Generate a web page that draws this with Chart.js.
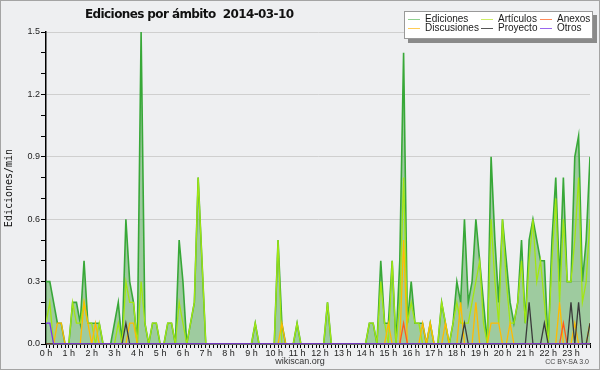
<!DOCTYPE html>
<html>
<head>
<meta charset="utf-8">
<script src="https://cdn.jsdelivr.net/npm/chart.js@4.4.1/dist/chart.umd.min.js"></script>
<style>
  body { margin: 0; background: #eeeff1; }
  #wrap { position: relative; width: 600px; height: 370px; overflow: hidden; background: #eeeff1; }
  #frame { position: absolute; left: 0; top: 0; width: 598px; height: 368px; border: 1px solid #a4a4a4; pointer-events: none; }
  #title { position: absolute; left: 85px; top: 7px; font: bold 12px "DejaVu Sans"; letter-spacing: -0.6px; color: #111; white-space: pre; }
  #legend { position: absolute; left: 404px; top: 11px; width: 187px; height: 26px; background: #fff; border: 1px solid #999; box-shadow: 4px 4px 0 #8a8a8a; }
  .lg-line { position: absolute; height: 1px; width: 12px; }
  .lg-text { position: absolute; font: 10px "Liberation Sans"; color: #1a1a1a; line-height: 10px; white-space: nowrap; }
  #site { position: absolute; left: 0; width: 600px; top: 356px; text-align: center; font: 9px "Liberation Sans"; color: #333; }
  #lic { position: absolute; right: 11px; top: 358px; font: 7px "Liberation Sans"; color: #444; }
</style>
</head>
<body>
<div id="wrap">
  <canvas id="chart" width="600" height="370"></canvas>
  <div id="title">Ediciones por ámbito  2014-03-10</div>
  <div id="legend"></div>
  <div id="site">wikiscan.org</div>
  <div id="lic">CC BY-SA 3.0</div>
  <div id="frame"></div>
</div>
<script>
// tick labels, one per hour (6 slots of 10 min each)
const hourLabels = ['0 h','1 h','2 h','3 h','4 h','5 h','6 h','7 h','8 h','9 h','10 h','11 h',
                    '12 h','13 h','14 h','15 h','16 h','17 h','18 h','19 h','20 h','21 h','22 h','23 h'];
const slotsPerHour = 6;

// edits per minute, one value per 10-minute slot
const ediciones = [
  0.3,0.3,0.2,0.1,0.1,0,0,0.2,0.2,0.1,0.4,0.1,
  0.1,0.1,0.1,0,0,0,0.1,0.2,0,0.6,0.3,0.2,
  0,1.5,0.1,0,0.1,0.1,0,0,0.1,0.1,0,0.5,
  0.3,0,0.1,0.2,0.8,0.4,0,0,0,0,0,0,
  0,0,0,0,0,0,0,0.1,0,0,0,0,
  0,0.5,0.1,0,0,0,0.1,0,0,0,0,0,
  0,0,0.2,0,0,0,0,0,0,0,0,0,
  0,0.1,0.1,0,0.4,0.1,0.1,0.4,0,0.4,1.4,0.1,
  0.3,0.1,0.1,0.1,0,0.1,0,0,0.2,0.1,0,0.1,
  0.3,0.2,0.6,0.2,0.3,0.6,0.4,0.2,0,0.9,0.5,0.2,
  0.6,0.4,0.2,0.1,0.2,0.5,0.1,0.5,0.6,0.5,0.4,0.4,
  0,0.5,0.8,0.3,0.8,0.3,0.3,0.9,1.0,0.3,0.5,0.9
];
const articulos = [
  0.1,0.2,0,0,0,0,0,0.2,0.1,0.1,0.2,0.1,
  0.1,0,0.1,0,0,0,0,0.1,0,0.3,0.2,0.2,
  0,0.3,0.1,0,0.1,0.1,0,0,0.1,0.1,0,0.2,
  0.1,0,0.1,0.2,0.8,0.4,0,0,0,0,0,0,
  0,0,0,0,0,0,0,0.1,0,0,0,0,
  0,0.5,0,0,0,0,0.1,0,0,0,0,0,
  0,0,0.2,0,0,0,0,0,0,0,0,0,
  0,0.1,0.1,0,0.3,0.1,0,0.4,0,0.2,0.8,0.1,
  0.2,0.1,0.1,0,0,0.1,0,0,0.2,0.1,0,0.1,
  0.2,0.1,0.1,0.1,0.2,0.3,0.4,0.1,0,0.6,0.3,0.1,
  0.6,0.3,0.1,0.1,0.2,0.4,0.1,0.4,0.6,0.3,0.4,0.2,
  0,0.4,0.7,0.2,0.6,0.3,0.3,0.5,0.8,0.2,0.3,0.6
];
const anexos = [
  0,0,0,0,0,0,0,0,0,0,0,0,
  0,0,0,0,0,0,0,0,0,0,0,0,
  0,0,0,0,0,0,0,0,0,0,0,0,
  0,0,0,0,0,0,0,0,0,0,0,0,
  0,0,0,0,0,0,0,0,0,0,0,0,
  0,0,0,0,0,0,0,0,0,0,0,0,
  0,0,0,0,0,0,0,0,0,0,0,0,
  0,0,0,0,0,0,0,0,0,0,0.1,0,
  0,0,0,0,0,0,0,0,0,0,0,0,
  0,0,0,0,0,0,0,0,0,0,0,0,
  0,0,0,0,0,0,0,0,0,0,0,0,
  0,0,0,0,0.1,0,0,0,0,0,0,0
];
const discusiones = [
  0,0,0,0.1,0.1,0,0,0,0,0,0.2,0.1,
  0,0.1,0,0,0,0,0,0,0,0,0.1,0.1,
  0,0,0,0,0,0,0,0,0,0,0,0,
  0,0,0,0,0,0,0,0,0,0,0,0,
  0,0,0,0,0,0,0,0,0,0,0,0,
  0,0,0.1,0,0,0,0,0,0,0,0,0,
  0,0,0,0,0,0,0,0,0,0,0,0,
  0,0,0,0,0,0,0.1,0,0,0,0.5,0,
  0,0,0,0.1,0,0.1,0,0,0,0.1,0,0,
  0,0.2,0,0,0,0.2,0,0,0,0.1,0.1,0.1,
  0,0,0.1,0,0,0,0,0,0,0,0,0,
  0,0,0,0.2,0,0,0,0.1,0,0,0,0.1
];
const proyecto = [
  0,0,0,0,0,0,0,0,0,0,0,0,
  0,0,0,0,0,0,0,0,0,0.1,0,0,
  0,0,0,0,0,0,0,0,0,0,0,0,
  0,0,0,0,0,0,0,0,0,0,0,0,
  0,0,0,0,0,0,0,0,0,0,0,0,
  0,0,0,0,0,0,0,0,0,0,0,0,
  0,0,0,0,0,0,0,0,0,0,0,0,
  0,0,0,0,0,0,0,0,0,0,0,0,
  0,0,0,0,0,0,0,0,0,0,0,0,
  0,0,0.1,0,0,0,0,0,0,0,0,0,
  0,0,0,0,0,0,0,0.2,0,0,0,0.1,
  0,0,0,0,0,0,0.2,0,0.2,0,0,0.1
];
const otros = [
  0.1,0.1,0,0,0,0,0,0,0,0,0,0,
  0,0,0,0,0,0,0,0,0,0,0,0,
  0,0,0,0,0,0,0,0,0,0,0,0,
  0,0,0,0,0,0,0,0,0,0,0,0,
  0,0,0,0,0,0,0,0,0,0,0,0,
  0,0,0,0,0,0,0,0,0,0,0,0,
  0,0,0,0,0,0,0,0,0,0,0,0,
  0,0,0,0,0,0,0,0,0,0,0,0,
  0,0,0,0,0,0,0,0,0,0,0,0,
  0,0,0,0,0,0,0,0,0,0,0,0,
  0,0,0,0,0,0,0,0,0,0,0,0,
  0,0,0,0,0,0,0,0,0,0,0,0
];

// legend order (3 columns x 2 rows)
const seriesNames  = ['Ediciones', 'Artículos', 'Anexos', 'Discusiones', 'Proyecto', 'Otros'];
const seriesData   = [ediciones, articulos, anexos, discusiones, proyecto, otros];
const seriesColors = ['#38a838', '#a2e612', '#ff5a1e', '#ffbb00', '#3a3a3a', '#7a33ee'];
const legendColors = ['#8fd08f', '#cdee66', '#ff8a5a', '#ffcc55', '#555555', '#9a66ee'];
const drawOrder    = [10, 5, 3, 4, 2, 1];

const toPoints = arr => arr.map((v, i) => ({ x: i, y: v }));

// --- legend box ---
const legend = document.getElementById('legend');
const colX = [3, 76, 135];
const rowY = [7, 16];
seriesNames.forEach((name, i) => {
    const c = i % 3, r = Math.floor(i / 3);
    const ln = document.createElement('div');
    ln.className = 'lg-line';
    ln.style.left = colX[c] + 'px';
    ln.style.top = rowY[r] + 'px';
    ln.style.background = legendColors[i];
    legend.appendChild(ln);
    const tx = document.createElement('div');
    tx.className = 'lg-text';
    tx.style.left = (colX[c] + 17) + 'px';
    tx.style.top = (rowY[r] - 5) + 'px';
    tx.textContent = name;
    legend.appendChild(tx);
});

const isMajor = v => Math.round(v * 10) % 3 === 0;

const ctx = document.getElementById('chart').getContext('2d');
new Chart(ctx, {
    type: 'line',
    data: {
        datasets: seriesNames.map((name, i) => ({
            label: name,
            data: toPoints(seriesData[i]),
            borderColor: seriesColors[i],
            backgroundColor: i === 0 ? 'rgba(60,160,60,0.45)' : 'transparent',
            fill: i === 0 ? 'origin' : false,
            borderWidth: i === 0 ? 1.6 : 1.3,
            pointRadius: 0,
            tension: 0,
            order: drawOrder[i]
        }))
    },
    options: {
        responsive: false,
        animation: false,
        layout: { padding: { top: 32, right: 10, bottom: 0, left: 0 } },
        plugins: { legend: { display: false }, tooltip: { enabled: false } },
        scales: {
            x: {
                type: 'linear',
                min: 0, max: 143,
                afterFit: s => { s.height = 26; },
                border: { color: '#000', width: 1.5 },
                grid: { drawOnChartArea: false, tickColor: '#000', tickLength: 4 },
                ticks: {
                    stepSize: 1, autoSkip: false, maxRotation: 0, padding: 0,
                    color: '#222', font: { family: 'Liberation Sans', size: 9 },
                    callback: v => (v % slotsPerHour === 0 ? hourLabels[v / slotsPerHour] : '')
                }
            },
            y: {
                min: 0, max: 1.5,
                afterFit: s => { s.width = 46; },
                border: { color: '#000', width: 1.5 },
                grid: {
                    color: c => (isMajor(c.tick.value) ? '#cfcfcf' : 'rgba(0,0,0,0)'),
                    tickColor: '#000', tickLength: 5
                },
                ticks: {
                    stepSize: 0.1, padding: 1,
                    color: '#222', font: { family: 'Liberation Sans', size: 9 },
                    callback: v => (isMajor(v) ? v.toFixed(1) : '')
                },
                title: {
                    display: true, text: 'Ediciones/min', color: '#111',
                    font: { family: 'DejaVu Sans Mono', size: 10 },
                    padding: { top: 3, bottom: 0 }
                }
            }
        }
    }
});
</script>
</body>
</html>
